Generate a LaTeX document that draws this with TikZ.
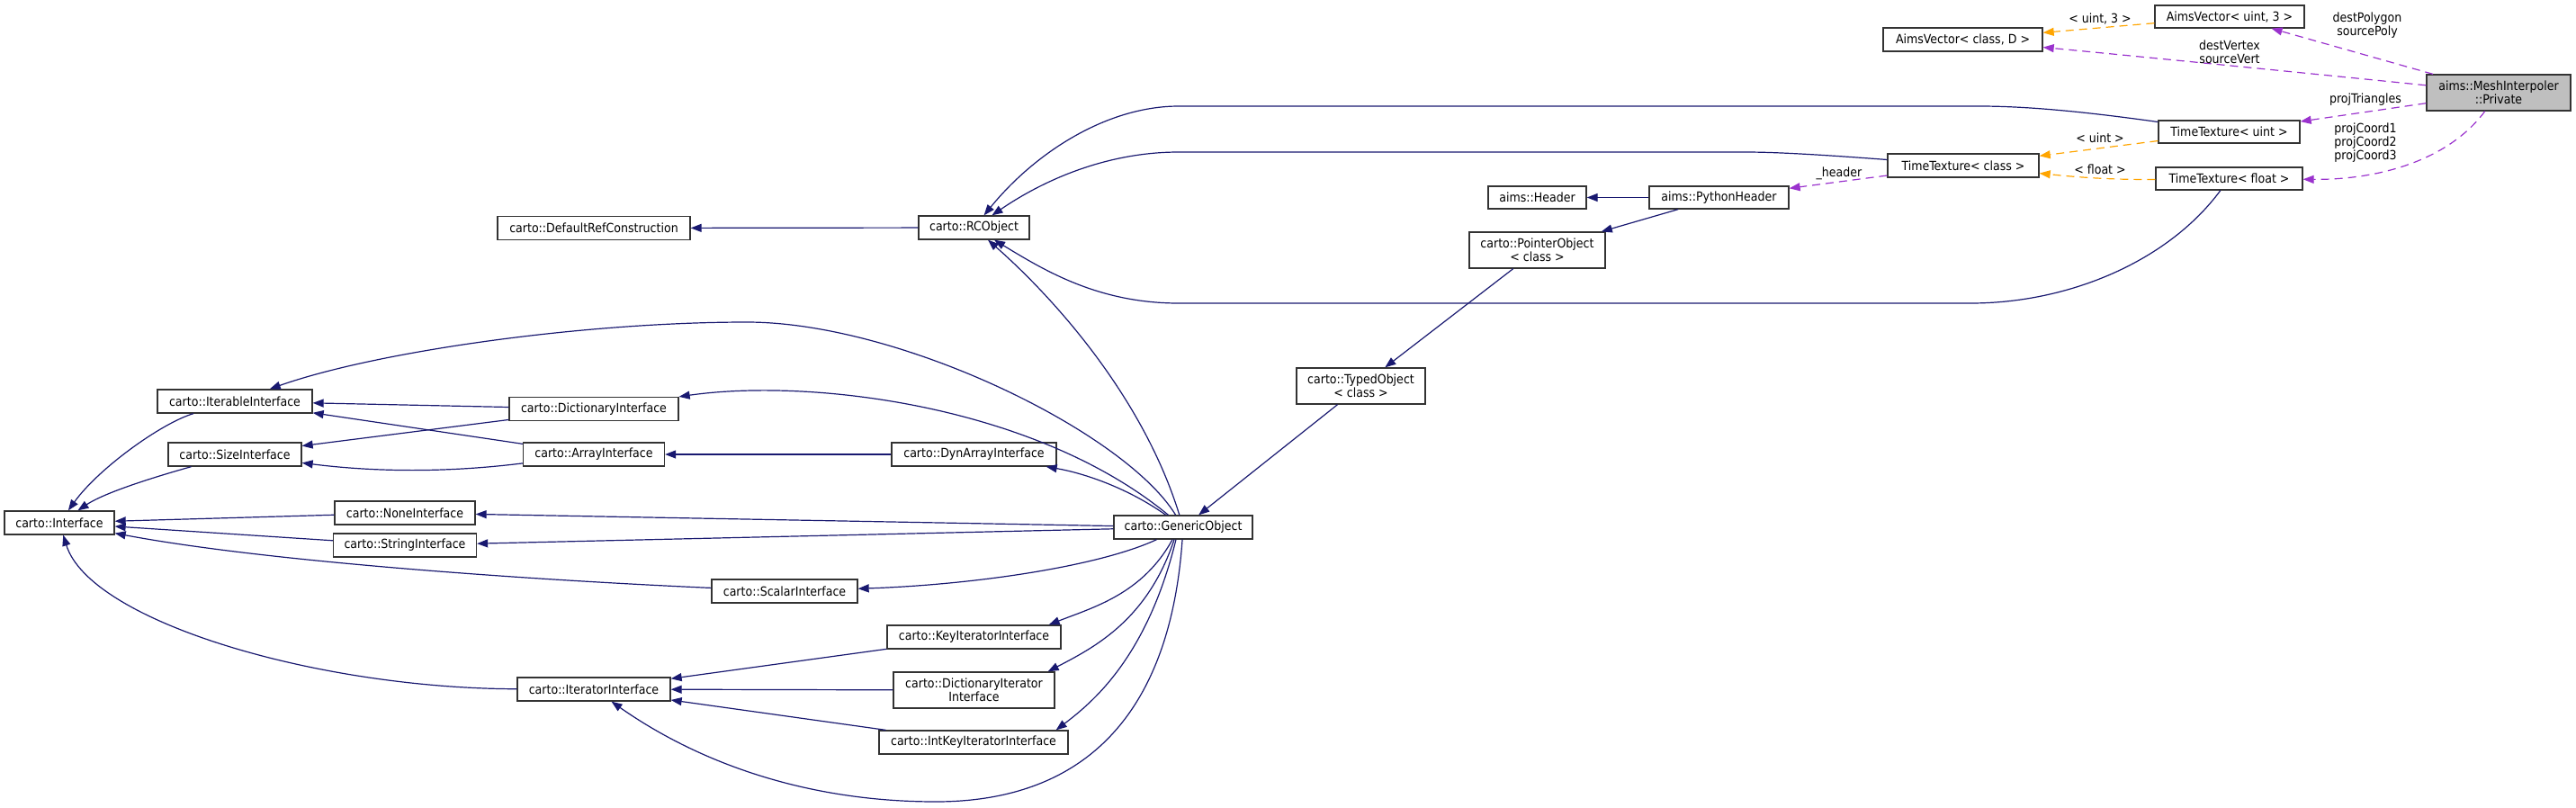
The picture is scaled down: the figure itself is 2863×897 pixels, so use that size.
\documentclass[tikz,border=0pt]{standalone}
\usepackage{fontspec}
\setmainfont{DejaVu Sans Condensed}
\usetikzlibrary{arrows.meta}

\definecolor{edgeblue}{HTML}{191970}
\definecolor{memberpurple}{HTML}{9A32CD}
\definecolor{instorange}{HTML}{FFA500}
\definecolor{privgray}{HTML}{BFBFBF}

\tikzset{
	cls/.style={draw=black!80,line width=1.3pt,fill=white,inner sep=0pt,minimum height=26pt,align=center,font=\fontsize{14}{15}\selectfont},
	lbl/.style={inner sep=0pt,align=center,font=\fontsize{14}{15}\selectfont},
	derive/.style={draw=edgeblue,line width=1.2pt,-{Triangle[length=12pt,width=9pt]}},
	member/.style={draw=memberpurple,line width=1.2pt,dash pattern=on 9pt off 6pt,-{Triangle[length=12pt,width=9pt]}},
	inst/.style={draw=instorange,line width=1.2pt,dash pattern=on 9pt off 6pt,-{Triangle[length=12pt,width=9pt]}}
}

\begin{document}
\begin{tikzpicture}[x=1pt,y=-1pt]

	\useasboundingbox (0,0) rectangle (2863,897);

	% classes
	\node[cls,minimum width=122pt] (interface) at (66,581) {carto::Interface};
	\node[cls,minimum width=172pt] (iterable) at (261,446) {carto::IterableInterface};
	\node[cls,minimum width=148pt] (size) at (261,505) {carto::SizeInterface};
	\node[cls,minimum width=188pt] (dictionary) at (660,454.5) {carto::DictionaryInterface};
	\node[cls,minimum width=157pt] (array) at (660,505) {carto::ArrayInterface};
	\node[cls,minimum width=156pt] (none) at (450,570) {carto::NoneInterface};
	\node[cls,minimum width=159pt] (string) at (450,606) {carto::StringInterface};
	\node[cls,minimum width=162pt] (scalar) at (872,657) {carto::ScalarInterface};
	\node[cls,minimum width=170pt] (iterator) at (660,766) {carto::IteratorInterface};
	\node[cls,minimum width=214pt] (defref) at (660,253.5) {carto::DefaultRefConstruction};
	\node[cls,minimum width=123pt] (rcobject) at (1082.5,253) {carto::RCObject};
	\node[cls,minimum width=183pt] (dynarray) at (1082.5,505) {carto::DynArrayInterface};
	\node[cls,minimum width=193pt] (keyiter) at (1082.5,708) {carto::KeyIteratorInterface};
	\node[cls,minimum width=179pt,minimum height=40pt] (dictiter) at (1082.5,767) {carto::DictionaryIterator\\Interface};
	\node[cls,minimum width=210pt] (intkeyiter) at (1082,825) {carto::IntKeyIteratorInterface};
	\node[cls,minimum width=154pt] (generic) at (1315,586) {carto::GenericObject};
	\node[cls,minimum width=143pt,minimum height=40pt] (typed) at (1512.5,429) {carto::TypedObject\\< class >};
	\node[cls,minimum width=151pt,minimum height=40pt] (pointer) at (1708.5,278) {carto::PointerObject\\< class >};
	\node[cls,minimum width=109pt,minimum height=25pt] (header) at (1708.5,219.5) {aims::Header};
	\node[cls,minimum width=155pt,minimum height=25pt] (pyheader) at (1910.5,219.5) {aims::PythonHeader};
	\node[cls,minimum width=168pt] (ttclass) at (2182,184) {TimeTexture< class >};
	\node[cls,minimum width=157pt,minimum height=25pt] (ttuint) at (2477.5,146.5) {TimeTexture< uint >};
	\node[cls,minimum width=163pt,minimum height=25pt] (ttfloat) at (2477.5,198.5) {TimeTexture< float >};
	\node[cls,minimum width=177pt] (avclass) at (2181.5,44) {AimsVector< class, D >};
	\node[cls,minimum width=166pt,minimum height=25pt] (avuint) at (2478,18.5) {AimsVector< uint, 3 >};
	\node[cls,minimum width=160pt,minimum height=40pt,fill=privgray] (private) at (2777,103) {aims::MeshInterpoler\\::Private};

	% inheritance
	\draw[derive] (iterable) .. controls (180,470) and (110,520) .. (interface);
	\draw[derive] (size) .. controls (190,525) and (120,545) .. (interface);
	\draw[derive] (none) -- (interface);
	\draw[derive] (string) -- (interface);
	\draw[derive] (scalar) .. controls (600,645) and (300,625) .. (interface);
	\draw[derive] (iterator) .. controls (350,765) and (100,690) .. (interface);
	\draw[derive] (dictionary) -- (iterable);
	\draw[derive] (array) -- (iterable);
	\draw[derive] (dictionary) -- (size);
	\draw[derive] (array) .. controls (500,525) and (420,525) .. (size);
	\draw[derive] (dynarray) -- (array);
	\draw[derive] (generic) .. controls (1250,480) and (1000,358) .. (830,358)
		.. controls (650,358) and (420,390) .. (iterable);
	\draw[derive] (generic) .. controls (1150,450) and (900,420) .. (dictionary);
	\draw[derive] (generic) .. controls (1250,540) and (1200,525) .. (dynarray);
	\draw[derive] (generic) -- (none);
	\draw[derive] (generic) -- (string);
	\draw[derive] (generic) .. controls (1220,630) and (1080,650) .. (scalar);
	\draw[derive] ([xshift=-12pt]generic.south) .. controls (1270,660) and (1215,675) .. ([xshift=-14pt]keyiter.north east);
	\draw[derive] ([xshift=-10pt]generic.south) .. controls (1275,690) and (1215,720) .. ([xshift=-8pt]dictiter.north east);
	\draw[derive] ([xshift=-8pt]generic.south) .. controls (1275,730) and (1215,780) .. ([xshift=-14pt]intkeyiter.north east);
	\draw[derive] (generic) .. controls (1300,800) and (1200,891) .. (1040,891)
		.. controls (900,891) and (780,850) .. (iterator);
	\draw[derive] (keyiter) -- (iterator);
	\draw[derive] (dictiter) -- (iterator);
	\draw[derive] (intkeyiter) -- (iterator);
	\draw[derive] (generic) .. controls (1270,440) and (1170,330) .. (rcobject);
	\draw[derive] (rcobject) -- (defref);
	\draw[derive] (ttuint) .. controls (2330,126) and (2260,118) .. (2200,118) -- (1310,118)
		.. controls (1230,118) and (1150,170) .. (rcobject);
	\draw[derive] (ttclass) .. controls (2000,170) and (1960,169) .. (1940,169) -- (1310,169)
		.. controls (1230,169) and (1160,200) .. (rcobject);
	\draw[derive] (ttfloat) .. controls (2410,290) and (2300,337) .. (2190,337) -- (1310,337)
		.. controls (1220,337) and (1160,300) .. (rcobject);
	\draw[derive] (pyheader) -- (header);
	\draw[derive] (pyheader) -- (pointer);
	\draw[derive] (pointer) -- (typed);
	\draw[derive] (typed) -- (generic);

	% members and templates
	\draw[member] (ttclass) -- (pyheader);
	\node[lbl] (lheader) at (2044,193) {\_header};
	\draw[inst] (ttuint) -- (ttclass);
	\node[lbl] (luint) at (2334,153) {< uint >};
	\draw[inst] (ttfloat) .. controls (2340,200) and (2300,196) .. (ttclass);
	\node[lbl] (lfloat) at (2334,188) {< float >};
	\draw[inst] (avuint) -- (avclass);
	\node[lbl] (luintthree) at (2334,21) {< uint, 3 >};
	\draw[member] (private) -- (avuint);
	\node[lbl] (lpoly) at (2631,28) {destPolygon\\sourcePoly};
	\draw[member] (private) .. controls (2600,85) and (2400,65) .. (avclass);
	\node[lbl] (lvert) at (2478,58) {destVertex\\sourceVert};
	\draw[member] (private) -- (ttuint);
	\node[lbl] (ltri) at (2629,111) {projTriangles};
	\draw[member] (private) .. controls (2720,180) and (2640,200) .. (ttfloat);
	\node[lbl] (lcoord) at (2629,159) {projCoord1\\projCoord2\\projCoord3};

\end{tikzpicture}
\end{document}
